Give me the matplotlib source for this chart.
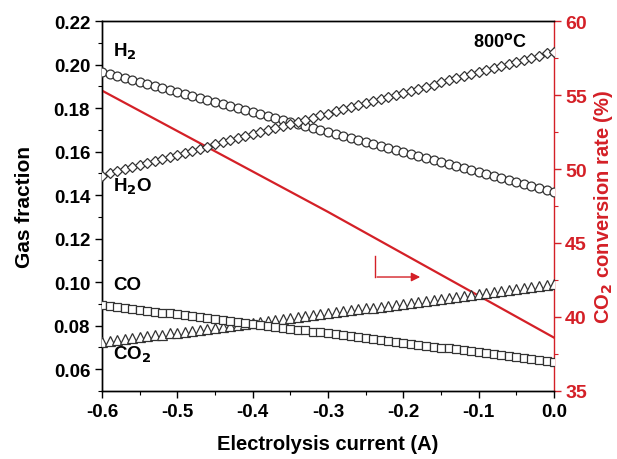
import numpy as np
import matplotlib
matplotlib.use("Agg")
import matplotlib.pyplot as plt
from matplotlib.ticker import MultipleLocator

plt.rcParams['font.family'] = ['Liberation Sans', 'DejaVu Sans']
plt.rcParams['font.weight'] = 'bold'

CURRENT = [-0.60, -0.59, -0.58, -0.57, -0.56, -0.55, -0.54, -0.53, -0.52, -0.51,
           -0.50, -0.49, -0.48, -0.47, -0.46, -0.45, -0.44, -0.43, -0.42, -0.41,
           -0.40, -0.39, -0.38, -0.37, -0.36, -0.35, -0.34, -0.33, -0.32, -0.31,
           -0.30, -0.29, -0.28, -0.27, -0.26, -0.25, -0.24, -0.23, -0.22, -0.21,
           -0.20, -0.19, -0.18, -0.17, -0.16, -0.15, -0.14, -0.13, -0.12, -0.11,
           -0.10, -0.09, -0.08, -0.07, -0.06, -0.05, -0.04, -0.03, -0.02, -0.01,
           0.00]

H2 = [0.1966, 0.1957, 0.1948, 0.1938, 0.1929, 0.1920, 0.1911, 0.1902, 0.1892, 0.1883,
      0.1874, 0.1865, 0.1856, 0.1846, 0.1837, 0.1828, 0.1819, 0.1810, 0.1800, 0.1791,
      0.1782, 0.1773, 0.1764, 0.1754, 0.1745, 0.1736, 0.1727, 0.1718, 0.1708, 0.1699,
      0.1690, 0.1681, 0.1672, 0.1662, 0.1653, 0.1644, 0.1635, 0.1626, 0.1616, 0.1607,
      0.1598, 0.1589, 0.1580, 0.1570, 0.1561, 0.1552, 0.1543, 0.1534, 0.1524, 0.1515,
      0.1506, 0.1497, 0.1488, 0.1478, 0.1469, 0.1460, 0.1451, 0.1442, 0.1432, 0.1423,
      0.1414]

H2O = [0.1490, 0.1500, 0.1509, 0.1519, 0.1528, 0.1538, 0.1547, 0.1557, 0.1566, 0.1576,
       0.1585, 0.1595, 0.1604, 0.1614, 0.1623, 0.1633, 0.1642, 0.1652, 0.1661, 0.1671,
       0.1680, 0.1690, 0.1699, 0.1709, 0.1718, 0.1728, 0.1737, 0.1747, 0.1756, 0.1766,
       0.1775, 0.1785, 0.1794, 0.1804, 0.1813, 0.1823, 0.1832, 0.1842, 0.1851, 0.1861,
       0.1870, 0.1880, 0.1889, 0.1899, 0.1908, 0.1918, 0.1927, 0.1937, 0.1946, 0.1956,
       0.1965, 0.1975, 0.1984, 0.1994, 0.2003, 0.2013, 0.2022, 0.2032, 0.2041, 0.2051,
       0.2060]

CO = [0.0724, 0.0728, 0.0733, 0.0737, 0.0742, 0.0746, 0.0751, 0.0755, 0.0759, 0.0764,
      0.0768, 0.0773, 0.0777, 0.0782, 0.0786, 0.0790, 0.0795, 0.0799, 0.0804, 0.0808,
      0.0813, 0.0817, 0.0821, 0.0826, 0.0830, 0.0835, 0.0839, 0.0844, 0.0848, 0.0852,
      0.0857, 0.0861, 0.0866, 0.0870, 0.0875, 0.0879, 0.0883, 0.0888, 0.0892, 0.0897,
      0.0901, 0.0906, 0.0910, 0.0914, 0.0919, 0.0923, 0.0928, 0.0932, 0.0937, 0.0941,
      0.0945, 0.0950, 0.0954, 0.0959, 0.0963, 0.0968, 0.0972, 0.0976, 0.0981, 0.0985,
      0.0990]

CO2 = [0.0895, 0.0891, 0.0886, 0.0882, 0.0878, 0.0873, 0.0869, 0.0865, 0.0860, 0.0856,
       0.0852, 0.0847, 0.0843, 0.0838, 0.0834, 0.0830, 0.0825, 0.0821, 0.0817, 0.0812,
       0.0808, 0.0804, 0.0799, 0.0795, 0.0791, 0.0786, 0.0782, 0.0778, 0.0773, 0.0769,
       0.0765, 0.0760, 0.0756, 0.0752, 0.0747, 0.0743, 0.0739, 0.0734, 0.0730, 0.0725,
       0.0721, 0.0717, 0.0712, 0.0708, 0.0704, 0.0699, 0.0695, 0.0691, 0.0686, 0.0682,
       0.0678, 0.0673, 0.0669, 0.0665, 0.0660, 0.0656, 0.0652, 0.0647, 0.0643, 0.0639,
       0.0634]

CONV_X = [-0.6, -0.3, 0.0]
CONV = [55.3, 47.1, 38.6]

RED = "#d42027"
GRAY = "#333333"

fig = plt.figure(figsize=(6.17, 4.6), dpi=100)
ax = fig.add_axes([0.1653, 0.148, 0.7327, 0.804])
ax2 = ax.twinx()

mk = dict(linestyle="none", markerfacecolor="white", markeredgecolor=GRAY,
          markeredgewidth=0.9, zorder=3)
ax.plot(CURRENT, H2, marker="o", markersize=6.4, **mk)
ax.plot(CURRENT, H2O, marker="D", markersize=5.4, **mk)
ax.plot(CURRENT, CO, marker="^", markersize=6.6, **mk)
ax.plot(CURRENT, CO2, marker="s", markersize=5.8, **mk)

ax2.plot(CONV_X, CONV, color=RED, linewidth=1.6, zorder=4)

ax.set_xlim(-0.6, 0.0)
ax.set_ylim(0.05, 0.22)
ax2.set_ylim(35, 60)

ax.set_xticks([-0.6, -0.5, -0.4, -0.3, -0.2, -0.1, 0.0])
ax.set_xticklabels(["-0.6", "-0.5", "-0.4", "-0.3", "-0.2", "-0.1", "0.0"])
ax.xaxis.set_minor_locator(MultipleLocator(0.05))
ax.set_yticks([0.06, 0.08, 0.10, 0.12, 0.14, 0.16, 0.18, 0.20, 0.22])
ax.set_yticklabels(["0.06", "0.08", "0.10", "0.12", "0.14", "0.16", "0.18", "0.20", "0.22"])
ax.yaxis.set_minor_locator(MultipleLocator(0.01))
ax2.set_yticks([35, 40, 45, 50, 55, 60])
ax2.yaxis.set_minor_locator(MultipleLocator(2.5))

ax.tick_params(axis="both", which="major", direction="out", length=5, width=1,
               labelsize=13.5, right=False, top=False)
ax.tick_params(axis="x", which="major", pad=4)
ax.tick_params(axis="both", which="minor", direction="out", length=3, width=0.8,
               right=False, top=False)
ax2.tick_params(axis="y", which="major", direction="out", length=5, width=1,
                colors=RED, labelsize=14, pad=3)
ax2.tick_params(axis="y", which="minor", direction="out", length=3, width=0.8,
                colors=RED)

for s in ["left", "bottom", "top"]:
    ax.spines[s].set_linewidth(1.0)
    ax2.spines[s].set_linewidth(1.0)
ax2.spines["right"].set_color(RED)
ax2.spines["right"].set_linewidth(1.0)
ax.spines["right"].set_visible(False)

ax.set_xlabel("Electrolysis current (A)", fontsize=14.5, fontweight="bold", labelpad=10)
ax.set_ylabel("Gas fraction", fontsize=15, fontweight="bold", labelpad=14)
ax2.set_ylabel("CO$_\\mathbf{2}$ conversion rate (%)", fontsize=14.5, fontweight="bold",
               color=RED, labelpad=4)

tk = dict(fontsize=13.5, fontweight="bold", va="center", ha="left")
ax.text(-0.585, 0.2062, "H$_\\mathbf{2}$", **tk)
ax.text(-0.585, 0.1441, "H$_\\mathbf{2}$O", **tk)
ax.text(-0.585, 0.0991, "CO", **tk)
ax.text(-0.585, 0.0670, "CO$_\\mathbf{2}$", **tk)
ax.text(-0.072, 0.2108, "800$^\\mathbf{o}$C", fontsize=13, fontweight="bold",
        va="center", ha="center")

ax2.plot([-0.2376, -0.2376], [44.12, 42.70], color=RED, linewidth=1.0)
ax2.annotate("", xy=(-0.174, 42.70), xytext=(-0.2386, 42.70),
             arrowprops=dict(arrowstyle="-|>", color=RED, lw=1.0, mutation_scale=13))

ax.set_zorder(ax2.get_zorder() + 1)
ax.patch.set_visible(False)

fig.savefig("out.png", dpi=100)
